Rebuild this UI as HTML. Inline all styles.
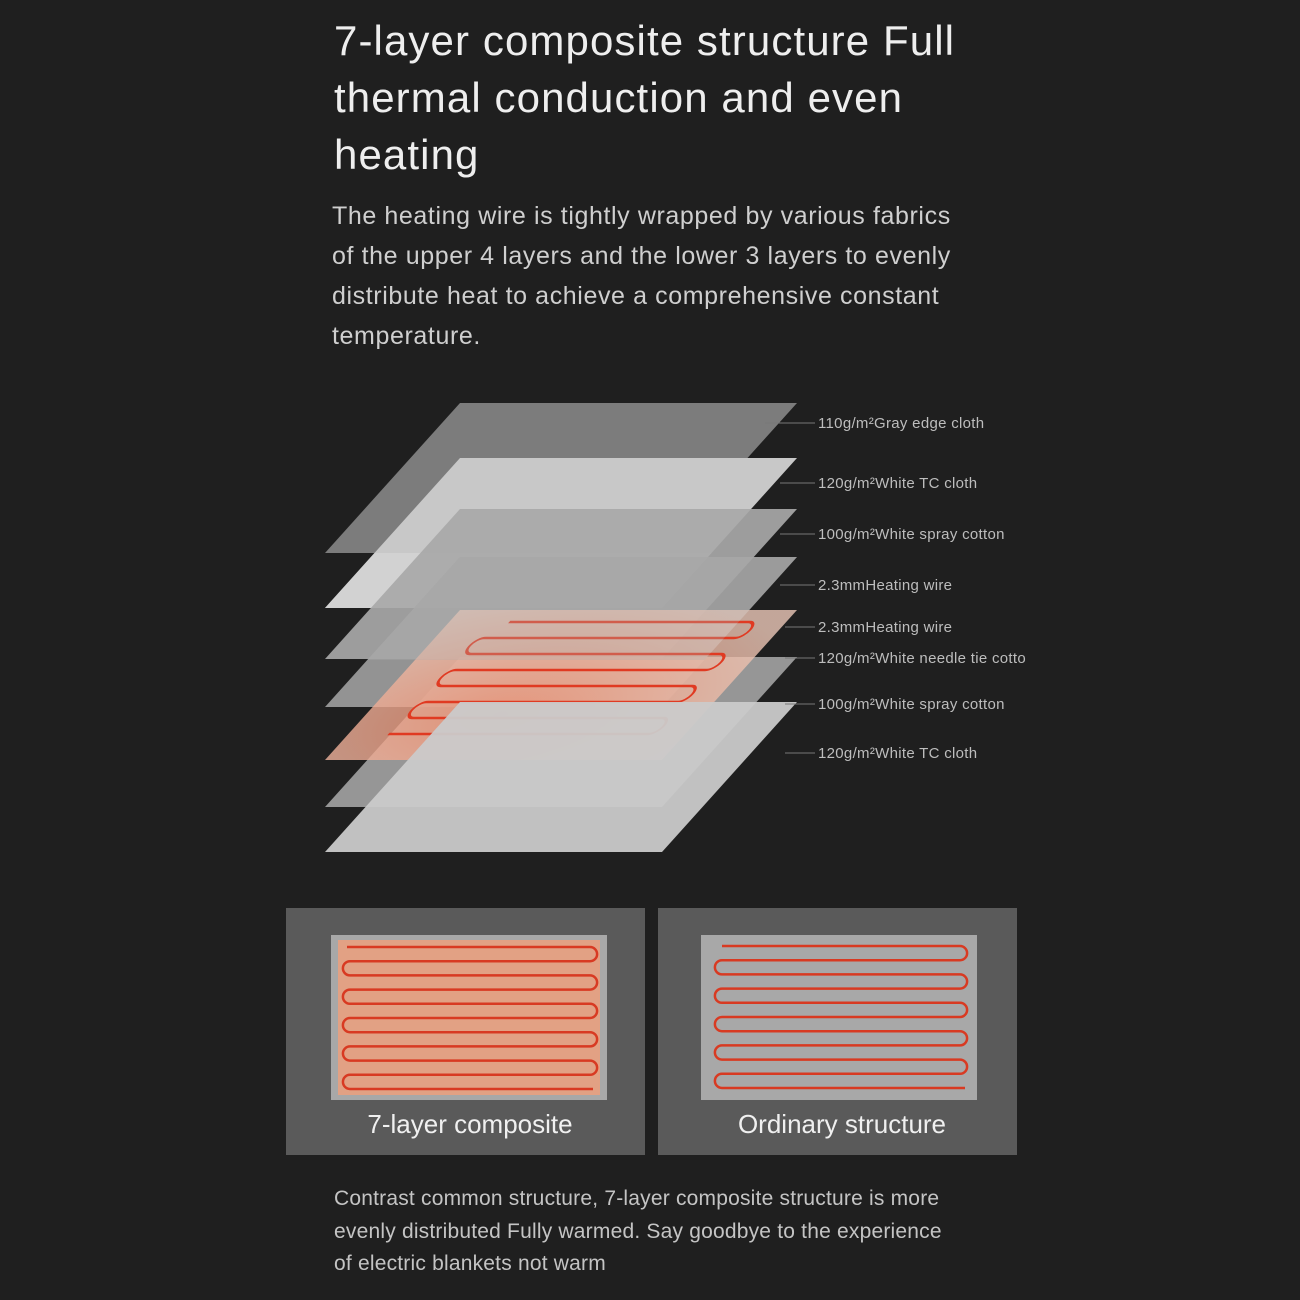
<!DOCTYPE html>
<html><head><meta charset="utf-8"><style>
html,body{margin:0;padding:0;background:#1f1f1f;}
body{width:1300px;height:1300px;position:relative;overflow:hidden;font-family:"Liberation Sans",sans-serif;}
.t{position:absolute;left:334px;top:12px;color:#eeeeee;font-size:42px;line-height:57px;width:700px;letter-spacing:1.1px;}
.p{position:absolute;left:332px;top:196px;color:#cfcfcf;font-size:25px;line-height:40px;width:642px;letter-spacing:0.6px;}
.b{position:absolute;left:334px;top:1183px;color:#c4c4c4;font-size:21px;line-height:32.5px;width:625px;letter-spacing:0.2px;}
</style></head><body>
<div class="t">7-layer composite structure Full thermal conduction and even heating</div>
<div class="p">The heating wire is tightly wrapped by various fabrics of the upper 4 layers and the lower 3 layers to evenly distribute heat to achieve a comprehensive constant temperature.</div>
<svg width="1300" height="1300" style="position:absolute;left:0;top:0">
<defs>
<radialGradient id="og" cx="0.4" cy="0.7" r="0.8"><stop offset="0" stop-color="#f29070"/><stop offset="1" stop-color="#ecc8b8"/></radialGradient>
</defs>
<g transform="matrix(1,0,-0.9,1,460,403)"><rect width="337" height="150" fill="#7c7c7c"/></g>
<g transform="matrix(1,0,-0.9,1,460,458)"><rect width="337" height="150" fill="#c8c8c8"/><rect y="95" width="337" height="55" fill="#d2d2d2"/></g>
<g transform="matrix(1,0,-0.9,1,460,509)"><rect width="337" height="150" fill="#a8a8a8" opacity="0.92"/></g>
<g transform="matrix(1,0,-0.9,1,460,557)"><rect width="337" height="150" fill="#a4a4a4" opacity="0.88"/></g>
<g transform="matrix(1,0,-0.9,1,460,657)"><rect width="337" height="150" fill="#b4b4b4" opacity="0.8"/></g>
<g transform="matrix(1,0,-0.9,1,460,610)">
<rect width="337" height="150" fill="url(#og)" opacity="0.8"/>
<path d="M60,12 H300 a8,8 0 0 1 0,16 H50 a8,8 0 0 0 0,16 H300 a8,8 0 0 1 0,16 H50 a8,8 0 0 0 0,16 H300 a8,8 0 0 1 0,16 H50 a8,8 0 0 0 0,16 H300 a8,8 0 0 1 0,16 H40" fill="none" stroke="#e03a22" stroke-width="2.5"/>
</g>
<g transform="matrix(1,0,-0.9,1,460,702)"><rect width="337" height="150" fill="#cacaca" opacity="0.95"/></g>
<g transform="matrix(1,0,-0.9,1,460,557)"><rect width="337" height="103" fill="#b0b0b0" opacity="0.3"/></g>
<g stroke="#777" stroke-width="1">
<line x1="765" y1="423" x2="815" y2="423"/><line x1="780" y1="483" x2="815" y2="483"/>
<line x1="780" y1="534" x2="815" y2="534"/><line x1="780" y1="585" x2="815" y2="585"/>
<line x1="785" y1="627" x2="815" y2="627"/><line x1="785" y1="658" x2="815" y2="658"/>
<line x1="785" y1="704" x2="815" y2="704"/><line x1="785" y1="753" x2="815" y2="753"/>
</g>
<g fill="#bdbdbd" font-size="15" letter-spacing="0.3">
<text x="818" y="428">110g/m²Gray edge cloth</text>
<text x="818" y="488">120g/m²White TC cloth</text>
<text x="818" y="539">100g/m²White spray cotton</text>
<text x="818" y="590">2.3mmHeating wire</text>
<text x="818" y="632">2.3mmHeating wire</text>
<text x="818" y="663">120g/m²White needle tie cotto</text>
<text x="818" y="709">100g/m²White spray cotton</text>
<text x="818" y="758">120g/m²White TC cloth</text>
</g>
<rect x="286" y="908" width="359" height="247" fill="#5a5a5a"/>
<rect x="658" y="908" width="359" height="247" fill="#5a5a5a"/>
<rect x="331" y="935" width="276" height="165" fill="#a8a8a8"/>
<rect x="338" y="940" width="262" height="155" fill="#e8a080" opacity="0.9"/>
<rect x="701" y="935" width="276" height="165" fill="#a8a8a8"/>
<path d="M347,947 H590 a7.1,7.1 0 0 1 0,14.2 H350 a7.1,7.1 0 0 0 0,14.2 H590 a7.1,7.1 0 0 1 0,14.2 H350 a7.1,7.1 0 0 0 0,14.2 H590 a7.1,7.1 0 0 1 0,14.2 H350 a7.1,7.1 0 0 0 0,14.2 H590 a7.1,7.1 0 0 1 0,14.2 H350 a7.1,7.1 0 0 0 0,14.2 H590 a7.1,7.1 0 0 1 0,14.2 H350 a7.1,7.1 0 0 0 0,14.2 H593" fill="none" stroke="#d83a22" stroke-width="2.5"/>
<path d="M722,946 H960 a7.1,7.1 0 0 1 0,14.2 H722 a7.1,7.1 0 0 0 0,14.2 H960 a7.1,7.1 0 0 1 0,14.2 H722 a7.1,7.1 0 0 0 0,14.2 H960 a7.1,7.1 0 0 1 0,14.2 H722 a7.1,7.1 0 0 0 0,14.2 H960 a7.1,7.1 0 0 1 0,14.2 H722 a7.1,7.1 0 0 0 0,14.2 H960 a7.1,7.1 0 0 1 0,14.2 H722 a7.1,7.1 0 0 0 0,14.2 H965" fill="none" stroke="#d83a22" stroke-width="2.5"/>
<g fill="#f0f0f0" font-size="26" text-anchor="middle">
<text x="470" y="1133">7-layer composite</text>
<text x="842" y="1133">Ordinary structure</text>
</g>
</svg>
<div class="b">Contrast common structure, 7-layer composite structure is more evenly distributed Fully warmed. Say goodbye to the experience of electric blankets not warm</div>
</body></html>
